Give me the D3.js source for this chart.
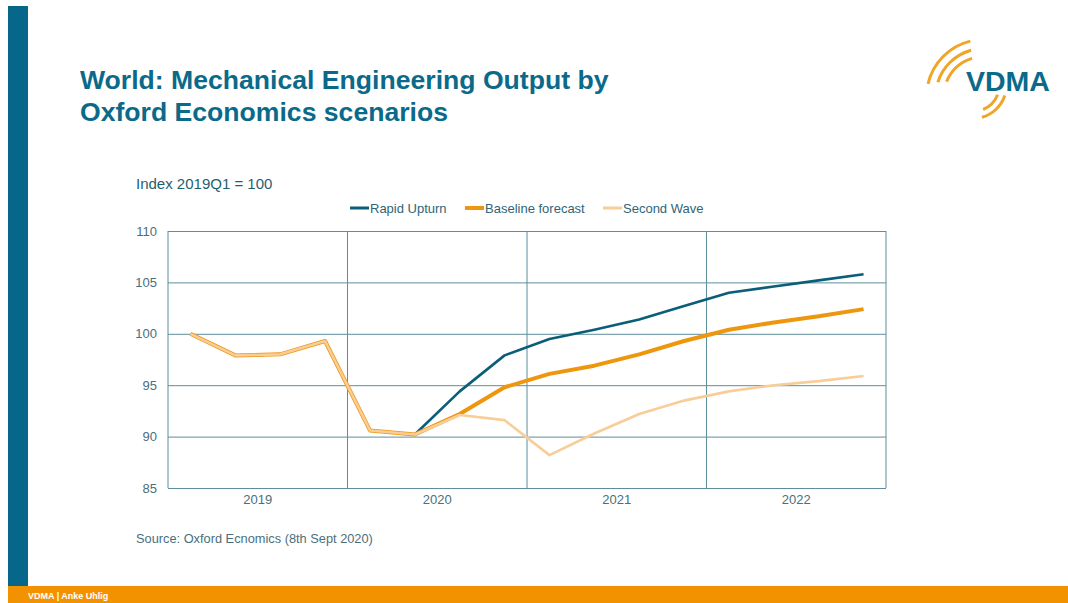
<!DOCTYPE html>
<html>
<head>
<meta charset="utf-8">
<script src="https://cdn.jsdelivr.net/npm/d3@7"></script>
<style>
  body { margin: 0; background: #fff; }
  svg { display: block; font-family: "Liberation Sans", Arial, sans-serif; }
</style>
</head>
<body>
<div id="chart"></div>
<script>
// Data (index 2019Q1 = 100)
const quarters = ["2019Q1", "2019Q2", "2019Q3", "2019Q4", "2020Q1", "2020Q2", "2020Q3", "2020Q4",
                  "2021Q1", "2021Q2", "2021Q3", "2021Q4", "2022Q1", "2022Q2", "2022Q3", "2022Q4"];
const years = ["2019", "2020", "2021", "2022"];
const rapidUpturn = [100.0, 97.9, 98.0, 99.3, 90.6, 90.2, 94.4, 97.9, 99.5, 100.4, 101.4, 102.7, 104.0, 104.6, 105.2, 105.8];
const baseline    = [100.0, 97.9, 98.0, 99.3, 90.6, 90.2, 92.2, 94.8, 96.1, 96.9, 98.0, 99.3, 100.4, 101.1, 101.7, 102.4];
const secondWave  = [100.0, 97.9, 98.0, 99.3, 90.6, 90.2, 92.1, 91.6, 88.2, 90.3, 92.2, 93.5, 94.4, 95.0, 95.4, 95.9];
const yTicks = [85, 90, 95, 100, 105, 110];
const seriesNames = ["Rapid Upturn", "Baseline forecast", "Second Wave"];

const W = 1068, H = 603;
const teal = "#0b6a8a";
const gridColor = "#5d8e9c";
const textColor = "#4a6f7c";

const svg = d3.select("#chart").append("svg")
    .attr("width", W)
    .attr("height", H);

// Slide frame: left bar and footer
svg.append("rect").attr("x", 8).attr("y", 6).attr("width", 20).attr("height", 580).attr("fill", "#07678a");
svg.append("rect").attr("x", 8).attr("y", 586).attr("width", W - 8).attr("height", 17).attr("fill", "#f39200");
svg.append("text").attr("x", 28).attr("y", 599)
    .attr("fill", "#fff").attr("font-size", 9).attr("font-weight", "bold")
    .text("VDMA | Anke Uhlig");

// Title
const title = svg.append("text").attr("fill", teal).attr("font-size", 26.6).attr("font-weight", "bold");
title.append("tspan").attr("x", 80).attr("y", 89).text("World: Mechanical Engineering Output by");
title.append("tspan").attr("x", 80).attr("y", 121).text("Oxford Economics scenarios");

// Logo: orange arcs + VDMA
const arcGen = d3.arc();
const upperArcs = svg.append("g").attr("transform", "translate(984,97)");
[[56, 59, -1.34, -0.24], [47, 50, -1.26, -0.27], [39, 42, -1.18, -0.30]].forEach(([r0, r1, a0, a1]) => {
  upperArcs.append("path")
      .attr("d", arcGen({ innerRadius: r0, outerRadius: r1, startAngle: a0, endAngle: a1 }))
      .attr("fill", "#f0a526");
});
const lowerArcs = svg.append("g").attr("transform", "translate(973,85)");
[[32, 35, 1.89, 2.87], [25, 28, 1.95, 2.75]].forEach(([r0, r1, a0, a1]) => {
  lowerArcs.append("path")
      .attr("d", arcGen({ innerRadius: r0, outerRadius: r1, startAngle: a0, endAngle: a1 }))
      .attr("fill", "#f0a526");
});
svg.append("text").attr("x", 966).attr("y", 91)
    .attr("fill", teal).attr("font-size", 28.5).attr("font-weight", "bold")
    .text("VDMA");

// Chart area
const plot = { left: 168, right: 886, top: 231, bottom: 488 };

const x = d3.scaleBand().domain(quarters).range([plot.left, plot.right]);
const xYear = d3.scaleBand().domain(years).range([plot.left, plot.right]);
const y = d3.scaleLinear().domain([85, 110]).range([plot.bottom, plot.top]);

svg.append("text").attr("x", 136).attr("y", 189)
    .attr("fill", "#1f5f73").attr("font-size", 15)
    .text("Index 2019Q1 = 100");

// Horizontal grid + y labels
const yAxis = svg.append("g")
    .attr("transform", `translate(${plot.left},0)`)
    .call(d3.axisLeft(y).tickValues(yTicks).tickSize(-(plot.right - plot.left)).tickPadding(11));
yAxis.select(".domain").remove();
yAxis.selectAll("line").attr("stroke", gridColor).attr("stroke-width", 1);
yAxis.selectAll("text").attr("fill", textColor).attr("font-size", 13).attr("font-family", "Liberation Sans, Arial, sans-serif");

// Vertical year separators
svg.append("g").selectAll("line")
    .data(years.concat(["end"]))
    .join("line")
    .attr("x1", (d, i) => plot.left + i * xYear.bandwidth())
    .attr("x2", (d, i) => plot.left + i * xYear.bandwidth())
    .attr("y1", plot.top).attr("y2", plot.bottom)
    .attr("stroke", gridColor).attr("stroke-width", 1);

// Year labels
const xAxis = svg.append("g")
    .attr("transform", `translate(0,${plot.bottom})`)
    .call(d3.axisBottom(xYear).tickSize(0).tickPadding(7));
xAxis.select(".domain").remove();
xAxis.selectAll("text").attr("fill", textColor).attr("font-size", 13).attr("font-family", "Liberation Sans, Arial, sans-serif");

// Lines
const line = d3.line()
    .x((d, i) => x(quarters[i]) + x.bandwidth() / 2)
    .y(d => y(d));

const lines = [
  { values: rapidUpturn, color: "#0b5e78", width: 2.6 },
  { values: baseline, color: "#ee960e", width: 4 },
  { values: secondWave, color: "#f8cd98", width: 2.6 }
];
svg.append("g").selectAll("path")
    .data(lines)
    .join("path")
    .attr("d", d => line(d.values))
    .attr("fill", "none")
    .attr("stroke", d => d.color)
    .attr("stroke-width", d => d.width)
    .attr("stroke-linejoin", "round");

// Legend
const legendX = [350, 465, 603];
const legend = svg.append("g").selectAll("g")
    .data(seriesNames)
    .join("g")
    .attr("transform", (d, i) => `translate(${legendX[i]},208)`);
legend.append("line")
    .attr("x1", 0).attr("x2", 19)
    .attr("stroke", (d, i) => lines[i].color)
    .attr("stroke-width", (d, i) => i === 1 ? 4 : 3);
legend.append("text")
    .attr("x", 20).attr("y", 4.5)
    .attr("fill", "#2f6577").attr("font-size", 13)
    .text(d => d);

// Source
svg.append("text").attr("x", 136).attr("y", 543)
    .attr("fill", textColor).attr("font-size", 12.8)
    .text("Source: Oxford Ecnomics (8th Sept 2020)");
</script>
</body>
</html>
